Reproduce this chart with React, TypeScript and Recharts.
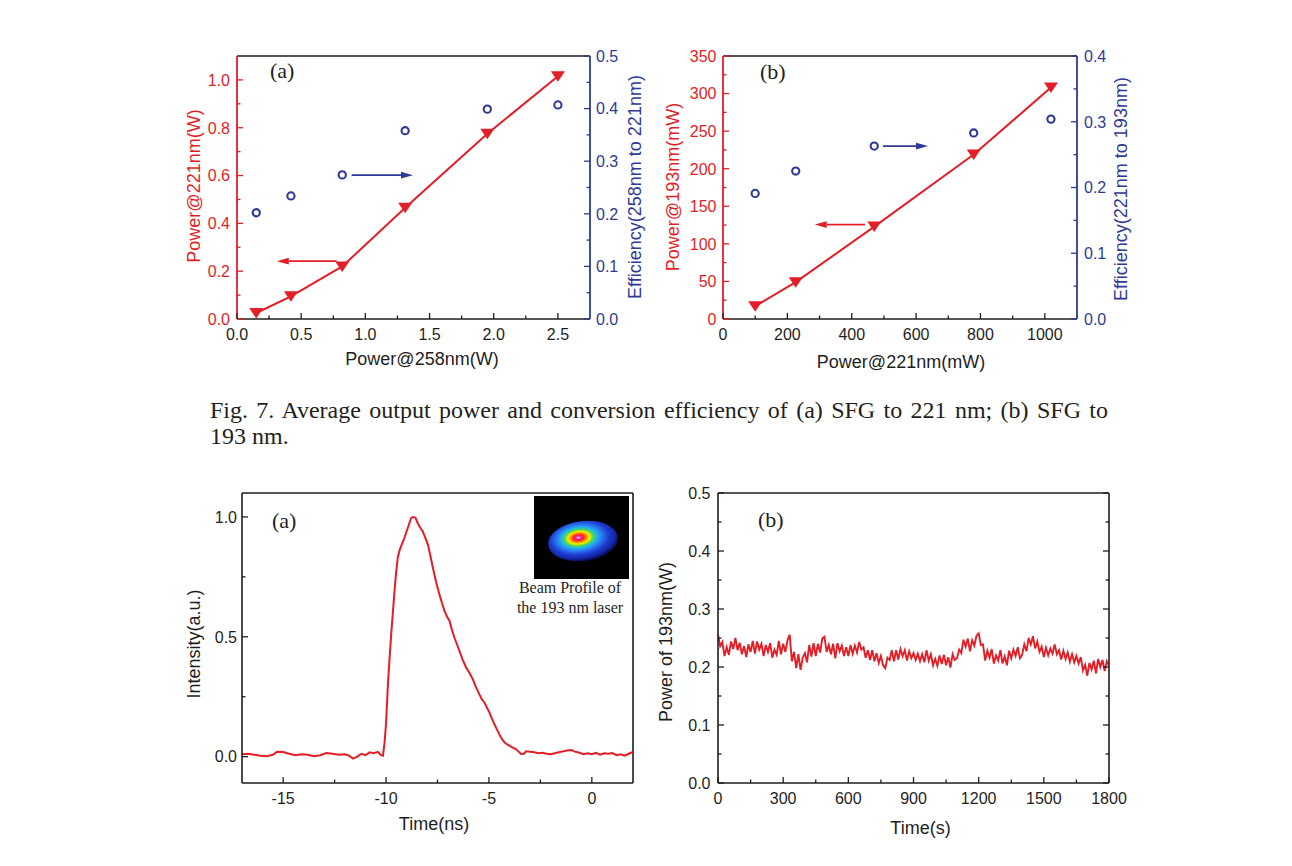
import React from 'react';
import { ComposedChart, LineChart, Line, XAxis, YAxis, ReferenceLine } from 'recharts';

const RED = '#e31e26';
const BLUE = '#2e3a96';
const INK = '#1e1e1e';
const SANS = '"Liberation Sans", Arial, sans-serif';
const SERIF = '"Liberation Serif", "Times New Roman", serif';

// ---------- Fig. 7(a): SFG to 221 nm ----------
const pump258W = [0.15, 0.42, 0.82, 1.31, 1.95, 2.5];
const out221W = [0.025, 0.095, 0.22, 0.465, 0.775, 1.015];
const eff258to221 = [0.202, 0.234, 0.274, 0.358, 0.399, 0.407];
const aXMajor = [0, 0.5, 1, 1.5, 2, 2.5];
const aXMinor = [0.25, 0.75, 1.25, 1.75, 2.25];
const aYLMajor = [0, 0.2, 0.4, 0.6, 0.8, 1.0];
const aYLMinor = [0.1, 0.3, 0.5, 0.7, 0.9];
const aYRMajor = [0, 0.1, 0.2, 0.3, 0.4, 0.5];
const aYRMinor = [0.05, 0.15, 0.25, 0.35, 0.45];

// ---------- Fig. 7(b): SFG to 193 nm ----------
const pump221mW = [100, 226, 470, 779, 1019];
const out193mW = [17, 49, 123, 219, 308];
const eff221to193 = [0.191, 0.225, 0.263, 0.283, 0.304];
const bXMajor = [0, 200, 400, 600, 800, 1000];
const bXMinor = [100, 300, 500, 700, 900];
const bYLMajor = [0, 50, 100, 150, 200, 250, 300, 350];
const bYLMinor = [25, 75, 125, 175, 225, 275, 325];
const bYRMajor = [0, 0.1, 0.2, 0.3, 0.4];
const bYRMinor = [0.05, 0.15, 0.25, 0.35];

// ---------- Fig. 8(a): pulse shape ----------
const pulseTimeNs = [
  -17.0, -16.7, -16.4, -16.1, -15.8, -15.5, -15.3, -15.0, -14.7, -14.4,
  -14.1, -13.8, -13.5, -13.2, -12.9, -12.6, -12.3, -12.0, -11.8, -11.6,
  -11.4, -11.2, -11.0, -10.8, -10.6, -10.4, -10.25, -10.15, -10.07, -10.0,
  -9.91, -9.83, -9.75, -9.67, -9.59, -9.51, -9.43, -9.35, -9.26, -9.14,
  -9.02, -8.94, -8.86, -8.78, -8.7, -8.57, -8.49, -8.41, -8.3, -8.22,
  -8.1, -7.97, -7.85, -7.73, -7.57, -7.41, -7.28, -7.16, -7.04, -6.92,
  -6.8, -6.68, -6.56, -6.44, -6.28, -6.11, -5.95, -5.79, -5.63, -5.47,
  -5.35, -5.22, -5.1, -4.98, -4.86, -4.74, -4.62, -4.5, -4.38, -4.25,
  -4.13, -4.01, -3.85, -3.69, -3.55, -3.44, -3.3, -3.2, -3.0, -2.8,
  -2.6, -2.4, -2.2, -2.0, -1.8, -1.6, -1.4, -1.2, -1.0, -0.8,
  -0.6, -0.4, -0.2, 0.0, 0.2, 0.4, 0.6, 0.8, 1.0, 1.2,
  1.4, 1.6, 1.8, 2.0,
];
const pulseIntensity = [
  0.01, 0.012, 0.008, 0.004, 0.002, 0.008, 0.02, 0.019, 0.012, 0.006,
  0.01, 0.008, 0.002, 0.006, 0.015, 0.012, 0.008, 0.01, 0.004, -0.008,
  0.0, 0.012, 0.006, 0.018, 0.014, 0.02, 0.006, 0.004, 0.06, 0.14,
  0.3, 0.41, 0.51, 0.6, 0.69, 0.77, 0.83, 0.86, 0.88, 0.905,
  0.935, 0.955, 0.976, 0.995, 1.0, 0.997, 0.98, 0.965, 0.95, 0.94,
  0.915, 0.886, 0.84, 0.79, 0.73, 0.678, 0.64, 0.608, 0.585, 0.567,
  0.53, 0.497, 0.47, 0.442, 0.405, 0.372, 0.35, 0.324, 0.29, 0.261,
  0.24, 0.226, 0.205, 0.185, 0.16, 0.136, 0.115, 0.094, 0.075, 0.06,
  0.052, 0.046, 0.038, 0.032, 0.02, 0.011, 0.012, 0.022, 0.02, 0.018,
  0.014, 0.016, 0.012, 0.01, 0.014, 0.018, 0.022, 0.026, 0.028, 0.02,
  0.016, 0.01, 0.014, 0.01, 0.016, 0.008, 0.014, 0.012, 0.015, 0.006,
  0.01, 0.004, 0.012, 0.02,
];
const cXMajor = [-15, -10, -5, 0];
const cXMinor = [-12.5, -7.5, -2.5];
const cYMajor = [0, 0.5, 1.0];
const cYMinor = [0.25, 0.75];

// ---------- Fig. 8(b): power stability ----------
const stabTimeS = [
  0, 10, 20, 30, 40, 50, 60, 70, 80, 90,
  100, 110, 120, 130, 140, 150, 160, 170, 180, 190,
  200, 210, 220, 230, 240, 250, 260, 270, 280, 290,
  300, 310, 320, 330, 340, 350, 360, 370, 380, 390,
  400, 410, 420, 430, 440, 450, 460, 470, 480, 490,
  500, 510, 520, 530, 540, 550, 560, 570, 580, 590,
  600, 610, 620, 630, 640, 650, 660, 670, 680, 690,
  700, 710, 720, 730, 740, 750, 760, 770, 780, 790,
  800, 810, 820, 830, 840, 850, 860, 870, 880, 890,
  900, 910, 920, 930, 940, 950, 960, 970, 980, 990,
  1000, 1010, 1020, 1030, 1040, 1050, 1060, 1070, 1080, 1090,
  1100, 1110, 1120, 1130, 1140, 1150, 1160, 1170, 1180, 1190,
  1200, 1210, 1220, 1230, 1240, 1250, 1260, 1270, 1280, 1290,
  1300, 1310, 1320, 1330, 1340, 1350, 1360, 1370, 1380, 1390,
  1400, 1410, 1420, 1430, 1440, 1450, 1460, 1470, 1480, 1490,
  1500, 1510, 1520, 1530, 1540, 1550, 1560, 1570, 1580, 1590,
  1600, 1610, 1620, 1630, 1640, 1650, 1660, 1670, 1680, 1690,
  1700, 1710, 1720, 1730, 1740, 1750, 1760, 1770, 1780, 1790,
  1800,
];
const stabPowerW = [
  0.256, 0.236, 0.243, 0.219, 0.234, 0.221, 0.244, 0.231, 0.250, 0.229,
  0.242, 0.222, 0.236, 0.217, 0.239, 0.226, 0.245, 0.223, 0.244, 0.230,
  0.240, 0.219, 0.238, 0.226, 0.241, 0.216, 0.230, 0.221, 0.245, 0.222,
  0.240, 0.226, 0.246, 0.256, 0.210, 0.226, 0.198, 0.222, 0.195, 0.216,
  0.224, 0.208, 0.238, 0.218, 0.241, 0.219, 0.240, 0.225, 0.249, 0.252,
  0.226, 0.238, 0.222, 0.240, 0.215, 0.241, 0.227, 0.237, 0.219, 0.234,
  0.219, 0.238, 0.223, 0.237, 0.225, 0.243, 0.230, 0.234, 0.216, 0.229,
  0.212, 0.229, 0.210, 0.224, 0.207, 0.219, 0.203, 0.198, 0.216, 0.212,
  0.229, 0.210, 0.229, 0.213, 0.231, 0.219, 0.229, 0.211, 0.227, 0.215,
  0.224, 0.212, 0.223, 0.210, 0.222, 0.208, 0.229, 0.211, 0.222, 0.203,
  0.214, 0.202, 0.220, 0.205, 0.221, 0.203, 0.217, 0.199, 0.222, 0.212,
  0.215, 0.230, 0.224, 0.247, 0.235, 0.249, 0.227, 0.246, 0.237, 0.254,
  0.258, 0.238, 0.239, 0.211, 0.228, 0.216, 0.231, 0.206, 0.220, 0.211,
  0.229, 0.206, 0.218, 0.203, 0.228, 0.215, 0.230, 0.219, 0.234, 0.215,
  0.221, 0.239, 0.227, 0.250, 0.239, 0.253, 0.232, 0.244, 0.226, 0.235,
  0.217, 0.233, 0.220, 0.232, 0.223, 0.239, 0.222, 0.229, 0.213, 0.228,
  0.214, 0.225, 0.209, 0.222, 0.208, 0.219, 0.206, 0.217, 0.194, 0.204,
  0.185, 0.207, 0.196, 0.211, 0.189, 0.214, 0.200, 0.212, 0.193, 0.210,
  0.203,
];
const dXMajor = [0, 300, 600, 900, 1200, 1500, 1800];
const dXMinor = [150, 450, 750, 1050, 1350, 1650];
const dYMajor = [0, 0.1, 0.2, 0.3, 0.4, 0.5];
const dYMinor = [0.05, 0.15, 0.25, 0.35, 0.45];

// ---------- tables built from the arrays ----------
const rowsA = pump258W.map((x, i) => ({ x, p: out221W[i], e: eff258to221[i] }));
const rowsB = pump221mW.map((x, i) => ({ x, p: out193mW[i], e: eff221to193[i] }));
const rowsC = pulseTimeNs.map((t, i) => ({ t, v: pulseIntensity[i] }));
const rowsD = stabTimeS.map((t, i) => ({ t, v: stabPowerW[i] }));

const fix1 = (v: number) => v.toFixed(1);
const int0 = (v: number) => String(Math.round(v));

type Side = 'left' | 'right' | 'bottom';
function tickRenderer(side: Side, color: string, majors: number[], fmt: ((v: number) => string) | null, gap: number) {
  return (props: any) => {
    const { x, y, payload, index } = props;
    const v = Number(payload.value);
    const major = majors.some((m) => Math.abs(m - v) < 1e-6);
    const len = major ? 6 : 3.5;
    const label = major && fmt ? fmt(v) : '';
    const tp = { fill: color, fontSize: 16, fontFamily: SANS } as any;
    if (side === 'left') {
      return (
        <g key={`tl${index}`}>
          <line x1={x} y1={y} x2={x + len} y2={y} stroke={color} strokeWidth={1.3} />
          {label ? <text x={x - gap} y={y + 5.8} textAnchor="end" {...tp}>{label}</text> : null}
        </g>
      );
    }
    if (side === 'right') {
      return (
        <g key={`tr${index}`}>
          <line x1={x} y1={y} x2={x - len} y2={y} stroke={color} strokeWidth={1.3} />
          {label ? <text x={x + gap} y={y + 5.8} textAnchor="start" {...tp}>{label}</text> : null}
        </g>
      );
    }
    return (
      <g key={`tb${index}`}>
        <line x1={x} y1={y} x2={x} y2={y - len} stroke={color} strokeWidth={1.3} />
        {label ? <text x={x} y={y + 21} textAnchor="middle" {...tp}>{label}</text> : null}
      </g>
    );
  };
}

const triDown = (p: any) => {
  const { cx, cy, index } = p;
  if (cx == null || cy == null) return <g key={`td${index}`} />;
  return <path key={`td${index}`} d={`M${cx - 7},${cy - 5} L${cx + 7},${cy - 5} L${cx},${cy + 5.5} Z`} fill={RED} />;
};
const openCircle = (p: any) => {
  const { cx, cy, index } = p;
  if (cx == null || cy == null) return <g key={`oc${index}`} />;
  return <circle key={`oc${index}`} cx={cx} cy={cy} r={3.6} fill="none" stroke={BLUE} strokeWidth={2.1} />;
};

const arrowShape = (color: string) => (p: any) => {
  const { x1, y1, x2, y2 } = p;
  const dx = x2 - x1;
  const dy = y2 - y1;
  const L = Math.hypot(dx, dy) || 1;
  const ux = dx / L;
  const uy = dy / L;
  const hl = 12;
  const hw = 3.3;
  const bx = x2 - ux * hl;
  const by = y2 - uy * hl;
  return (
    <g>
      <line x1={x1} y1={y1} x2={bx} y2={by} stroke={color} strokeWidth={1.8} />
      <polygon points={`${x2},${y2} ${bx - uy * hw},${by + ux * hw} ${bx + uy * hw},${by - ux * hw}`} fill={color} />
    </g>
  );
};

const frameLine = (p: any) => <line x1={p.x1} y1={p.y1} x2={p.x2} y2={p.y2} stroke={INK} strokeWidth={1.6} />;

function box(plotL: number, plotT: number, leftW: number, topM: number): React.CSSProperties {
  return { position: 'absolute', left: plotL - leftW, top: plotT - topM };
}

function ChartA() {
  const leftW = 87, rightW = 60, topM = 16, bottomH = 60, W = 353, H = 263;
  return (
    <div style={box(237, 56, leftW, topM)}>
      <ComposedChart width={leftW + W + rightW} height={topM + H + bottomH} data={rowsA} margin={{ top: topM, right: 0, bottom: 0, left: 0 }}>
        <XAxis type="number" dataKey="x" domain={[0, 2.75]} allowDataOverflow ticks={[...aXMajor, ...aXMinor]} interval={0}
          tickSize={0} tickMargin={0} tickLine={false} axisLine={{ stroke: INK, strokeWidth: 1.6 }} height={bottomH}
          tick={tickRenderer('bottom', INK, aXMajor, fix1, 0)} />
        <YAxis yAxisId="l" type="number" domain={[0, 1.1]} allowDataOverflow ticks={[...aYLMajor, ...aYLMinor]} interval={0}
          tickSize={0} tickMargin={0} tickLine={false} axisLine={{ stroke: RED, strokeWidth: 1.8 }} width={leftW}
          tick={tickRenderer('left', RED, aYLMajor, fix1, 7)} />
        <YAxis yAxisId="r" orientation="right" type="number" domain={[0, 0.5]} allowDataOverflow ticks={[...aYRMajor, ...aYRMinor]} interval={0}
          tickSize={0} tickMargin={0} tickLine={false} axisLine={{ stroke: BLUE, strokeWidth: 1.8 }} width={rightW}
          tick={tickRenderer('right', BLUE, aYRMajor, fix1, 6)} />
        <ReferenceLine yAxisId="l" y={1.1} shape={frameLine} />
        <ReferenceLine yAxisId="l" segment={[{ x: 0.776, y: 0.242 }, { x: 0.31, y: 0.242 }]} shape={arrowShape(RED)} />
        <ReferenceLine yAxisId="r" segment={[{ x: 0.893, y: 0.2735 }, { x: 1.371, y: 0.2735 }]} shape={arrowShape(BLUE)} />
        <Line yAxisId="r" dataKey="e" stroke="none" dot={openCircle} activeDot={false} isAnimationActive={false} />
        <Line yAxisId="l" dataKey="p" stroke={RED} strokeWidth={2} dot={triDown} activeDot={false} isAnimationActive={false} />
      </ComposedChart>
    </div>
  );
}

function ChartB() {
  const leftW = 50, rightW = 60, topM = 16, bottomH = 60, W = 354, H = 263;
  return (
    <div style={box(723, 56, leftW, topM)}>
      <ComposedChart width={leftW + W + rightW} height={topM + H + bottomH} data={rowsB} margin={{ top: topM, right: 0, bottom: 0, left: 0 }}>
        <XAxis type="number" dataKey="x" domain={[0, 1100]} allowDataOverflow ticks={[...bXMajor, ...bXMinor]} interval={0}
          tickSize={0} tickMargin={0} tickLine={false} axisLine={{ stroke: INK, strokeWidth: 1.6 }} height={bottomH}
          tick={tickRenderer('bottom', INK, bXMajor, int0, 0)} />
        <YAxis yAxisId="l" type="number" domain={[0, 350]} allowDataOverflow ticks={[...bYLMajor, ...bYLMinor]} interval={0}
          tickSize={0} tickMargin={0} tickLine={false} axisLine={{ stroke: RED, strokeWidth: 1.8 }} width={leftW}
          tick={tickRenderer('left', RED, bYLMajor, int0, 6.5)} />
        <YAxis yAxisId="r" orientation="right" type="number" domain={[0, 0.4]} allowDataOverflow ticks={[...bYRMajor, ...bYRMinor]} interval={0}
          tickSize={0} tickMargin={0} tickLine={false} axisLine={{ stroke: BLUE, strokeWidth: 1.8 }} width={rightW}
          tick={tickRenderer('right', BLUE, bYRMajor, fix1, 7)} />
        <ReferenceLine yAxisId="l" y={350} shape={frameLine} />
        <ReferenceLine yAxisId="l" segment={[{ x: 441, y: 125.6 }, { x: 285, y: 125.6 }]} shape={arrowShape(RED)} />
        <ReferenceLine yAxisId="r" segment={[{ x: 497, y: 0.263 }, { x: 637, y: 0.263 }]} shape={arrowShape(BLUE)} />
        <Line yAxisId="r" dataKey="e" stroke="none" dot={openCircle} activeDot={false} isAnimationActive={false} />
        <Line yAxisId="l" dataKey="p" stroke={RED} strokeWidth={2} dot={triDown} activeDot={false} isAnimationActive={false} />
      </ComposedChart>
    </div>
  );
}

function ChartC() {
  const leftW = 60, rightW = 20, topM = 10, bottomH = 40, W = 391, H = 290;
  return (
    <div style={box(242, 493, leftW, topM)}>
      <LineChart width={leftW + W + rightW} height={topM + H + bottomH} data={rowsC} margin={{ top: topM, right: rightW, bottom: 0, left: 0 }}>
        <XAxis type="number" dataKey="t" domain={[-17, 2]} allowDataOverflow ticks={[...cXMajor, ...cXMinor]} interval={0}
          tickSize={0} tickMargin={0} tickLine={false} axisLine={{ stroke: INK, strokeWidth: 1.6 }} height={bottomH}
          tick={tickRenderer('bottom', INK, cXMajor, int0, 0)} />
        <YAxis type="number" domain={[-0.11, 1.1]} allowDataOverflow ticks={[...cYMajor, ...cYMinor]} interval={0}
          tickSize={0} tickMargin={0} tickLine={false} axisLine={{ stroke: INK, strokeWidth: 1.6 }} width={leftW}
          tick={tickRenderer('left', INK, cYMajor, fix1, 5)} />
        <ReferenceLine y={1.1} shape={frameLine} />
        <ReferenceLine x={2} shape={frameLine} />
        <Line dataKey="v" stroke={RED} strokeWidth={2} dot={false} activeDot={false} isAnimationActive={false} />
      </LineChart>
    </div>
  );
}

function ChartD() {
  const leftW = 60, rightW = 30, topM = 10, bottomH = 40, W = 391, H = 290;
  return (
    <div style={box(718, 493, leftW, topM)}>
      <LineChart width={leftW + W + rightW} height={topM + H + bottomH} data={rowsD} margin={{ top: topM, right: 0, bottom: 0, left: 0 }}>
        <XAxis type="number" dataKey="t" domain={[0, 1800]} allowDataOverflow ticks={[...dXMajor, ...dXMinor]} interval={0}
          tickSize={0} tickMargin={0} tickLine={false} axisLine={{ stroke: INK, strokeWidth: 1.6 }} height={bottomH}
          tick={tickRenderer('bottom', INK, dXMajor, int0, 0)} />
        <YAxis yAxisId="l" type="number" domain={[0, 0.5]} allowDataOverflow ticks={[...dYMajor, ...dYMinor]} interval={0}
          tickSize={0} tickMargin={0} tickLine={false} axisLine={{ stroke: INK, strokeWidth: 1.6 }} width={leftW}
          tick={tickRenderer('left', INK, dYMajor, fix1, 7.5)} />
        <YAxis yAxisId="r" orientation="right" type="number" domain={[0, 0.5]} allowDataOverflow ticks={[...dYMajor, ...dYMinor]} interval={0}
          tickSize={0} tickMargin={0} tickLine={false} axisLine={{ stroke: INK, strokeWidth: 1.6 }} width={rightW}
          tick={tickRenderer('right', INK, dYMajor, null, 0)} />
        <ReferenceLine yAxisId="l" y={0.5} shape={frameLine} />
        <Line yAxisId="r" dataKey="v" stroke="none" dot={false} activeDot={false} isAnimationActive={false} />
        <Line yAxisId="l" dataKey="v" stroke={RED} strokeWidth={1.9} dot={false} activeDot={false} isAnimationActive={false} />
      </LineChart>
    </div>
  );
}

function VTitle({ x, y, color, children }: { x: number; y: number; color: string; children: React.ReactNode }) {
  return (
    <text transform={`translate(${x},${y}) rotate(-90)`} textAnchor="middle" fill={color} fontSize={18} fontFamily={SANS}>
      {children}
    </text>
  );
}
function HTitle({ x, y, children }: { x: number; y: number; children: React.ReactNode }) {
  return (
    <text x={x} y={y} textAnchor="middle" fill={INK} fontSize={18} fontFamily={SANS}>
      {children}
    </text>
  );
}
function Panel({ x, y, children }: { x: number; y: number; children: React.ReactNode }) {
  return (
    <text x={x} y={y} fill={INK} fontSize={22} fontFamily={SERIF}>
      {children}
    </text>
  );
}

function Overlay() {
  return (
    <svg width={1292} height={866} style={{ position: 'absolute', left: 0, top: 0, pointerEvents: 'none' }}>
      <defs>
        <radialGradient id="beam" cx="0.46" cy="0.42" r="0.56" fx="0.44" fy="0.4">
          <stop offset="0" stopColor="#ffffff" />
          <stop offset="0.05" stopColor="#ff40c0" />
          <stop offset="0.12" stopColor="#ff1030" />
          <stop offset="0.2" stopColor="#ff8a00" />
          <stop offset="0.28" stopColor="#f4f000" />
          <stop offset="0.36" stopColor="#50d850" />
          <stop offset="0.45" stopColor="#20b8e8" />
          <stop offset="0.58" stopColor="#2a7af0" />
          <stop offset="0.75" stopColor="#1c3cd0" />
          <stop offset="0.92" stopColor="#1224a0" />
          <stop offset="1" stopColor="#0a1060" />
        </radialGradient>
      </defs>
      {/* Fig 7 titles */}
      <VTitle x={200} y={186} color={RED}>Power@221nm(W)</VTitle>
      <VTitle x={640.5} y={187} color={BLUE}>Efficiency(258nm to 221nm)</VTitle>
      <HTitle x={422} y={365}>Power@258nm(W)</HTitle>
      <VTitle x={679} y={187} color={RED}>Power@193nm(mW)</VTitle>
      <VTitle x={1126.5} y={189} color={BLUE}>Efficiency(221nm to 193nm)</VTitle>
      <HTitle x={901} y={368}>Power@221nm(mW)</HTitle>
      <Panel x={270} y={78}>(a)</Panel>
      <Panel x={760} y={79}>(b)</Panel>
      {/* Fig 8 titles */}
      <VTitle x={199.5} y={644} color={INK}>Intensity(a.u.)</VTitle>
      <HTitle x={434} y={830}>Time(ns)</HTitle>
      <VTitle x={672} y={642} color={INK}>Power of 193nm(W)</VTitle>
      <HTitle x={920.5} y={834}>Time(s)</HTitle>
      <Panel x={272} y={528}>(a)</Panel>
      <Panel x={758} y={527}>(b)</Panel>
      {/* inset beam profile */}
      <rect x={534} y={496} width={95} height={83} fill="#000" />
      <ellipse cx={583} cy={541} rx={35} ry={20} fill="url(#beam)" transform="rotate(-7 583 541)" />
      <text x={570} y={593} textAnchor="middle" fill={INK} fontSize={16} fontFamily={SERIF}>Beam Profile of</text>
      <text x={570} y={613} textAnchor="middle" fill={INK} fontSize={16} fontFamily={SERIF}>the 193 nm laser</text>
    </svg>
  );
}

export default function App() {
  const cap: React.CSSProperties = {
    position: 'absolute', left: 210, width: 898, fontFamily: SERIF, fontSize: 24, lineHeight: '28px', color: '#231f20',
  };
  return (
    <div style={{ position: 'relative', left: -8, top: -8, width: 1292, height: 866, background: '#fff' }}>
      <ChartA />
      <ChartB />
      <ChartC />
      <ChartD />
      <div style={{ ...cap, top: 396, textAlign: 'justify', textAlignLast: 'justify' as any }}>
        Fig. 7. Average output power and conversion efficiency of (a) SFG to 221 nm; (b) SFG to
      </div>
      <div style={{ ...cap, top: 422 }}>193 nm.</div>
      <Overlay />
    </div>
  );
}
